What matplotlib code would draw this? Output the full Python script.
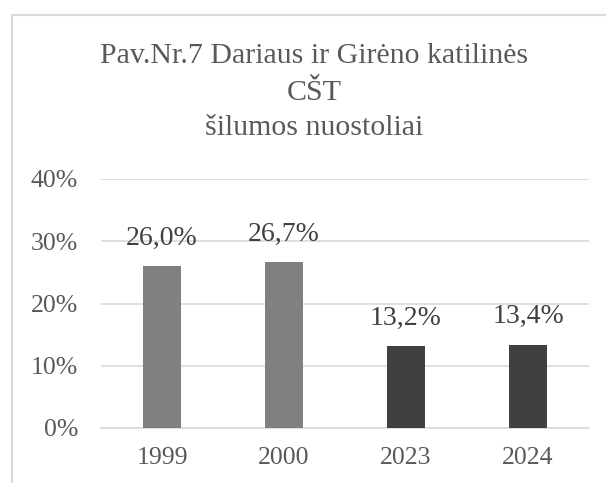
import matplotlib

matplotlib.use("Agg")

import matplotlib.pyplot as plt
from matplotlib.patches import Rectangle
from matplotlib.ticker import FuncFormatter

years = ["1999", "2000", "2023", "2024"]
losses = [26.0, 26.7, 13.2, 13.4]
bar_colors = ["#808080", "#808080", "#404040", "#404040"]
title_lines = ["Pav.Nr.7 Dariaus ir Girėno katilinės", "CŠT", "šilumos nuostoliai"]

TEXT = "#595959"
GRID = "#d9d9d9"
W, H = 606, 483

plt.rcParams["font.family"] = ["Liberation Serif", "DejaVu Serif"]

fig = plt.figure(figsize=(W / 100, H / 100), dpi=100)
fig.patch.set_facecolor("white")

# chart frame, cut off on the right and bottom like the source
fig.patches.append(Rectangle((11.5 / W, -0.1), 1.2, 1 - 15 / H + 0.1,
                             transform=fig.transFigure, fill=False,
                             edgecolor=GRID, linewidth=1.5))

ax = fig.add_axes([101 / W, 1 - 428 / H, 488 / W, 249 / H])
x = range(len(years))
ax.bar(x, losses, width=0.31, color=bar_colors, zorder=3)

for xi, value in zip(x, losses):
    ax.annotate(f"{value:.1f}%".replace(".", ","), (xi, value),
                xytext=(0, 20), textcoords="offset points",
                ha="center", va="center", fontsize=20, color="#404040")

ax.set_xlim(-0.5, 3.5)
ax.set_ylim(0, 40)
ax.set_yticks([0, 10, 20, 30, 40])
ax.yaxis.set_major_formatter(FuncFormatter(lambda v, _: f"{v:.0f}%"))
ax.set_xticks(list(x))
ax.set_xticklabels(years)
ax.tick_params(length=0, labelsize=18.5, colors=TEXT)
ax.tick_params(axis="y", pad=16.5)
ax.tick_params(axis="x", pad=13.5)
ax.grid(axis="y", color=GRID, linewidth=1.2, zorder=0)
for side in ["top", "right", "left"]:
    ax.spines[side].set_visible(False)
ax.spines["bottom"].set_color(GRID)
ax.spines["bottom"].set_linewidth(1.2)

for line, base in zip(title_lines, [63, 100, 135]):
    fig.text(314 / W, 1 - base / H, line, ha="center", va="baseline",
             fontsize=21.5, color=TEXT)

fig.savefig("out.png", dpi=100)
